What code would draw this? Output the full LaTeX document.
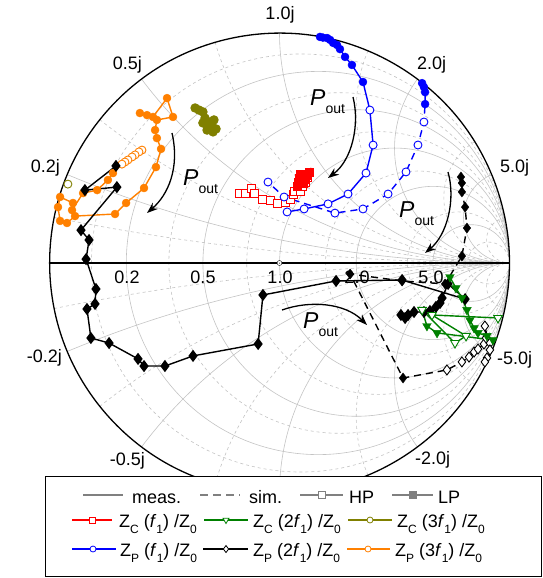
\documentclass[border=0pt]{standalone}
\usepackage{fontspec}
\setmainfont{Liberation Sans}
\usepackage{pgfplots}
\pgfplotsset{compat=1.18}
\usepgfplotslibrary{smithchart}
\usetikzlibrary{arrows.meta,plotmarks}
\definecolor{cblue}{RGB}{0,0,255}
\definecolor{cred}{RGB}{255,0,0}
\definecolor{cgreen}{RGB}{0,128,0}
\definecolor{colive}{RGB}{128,128,0}
\definecolor{corange}{RGB}{255,128,0}
\definecolor{cgrid}{RGB}{195,195,195}
\definecolor{clgray}{RGB}{128,128,128}
\newcommand{\sub}[1]{\raisebox{-6pt}{\fontsize{12}{12}\selectfont #1}}
\newcommand{\Zl}[2]{Z\sub{#1} (#2\textit{f}\sub{1}) /Z\sub{0}}
\tikzset{
  ltxt/.style={anchor=base west, inner sep=0pt, font=\fontsize{18}{20}\selectfont},
  tl/.style={inner sep=0pt, font=\fontsize{18}{20}\selectfont},
  pout/.style={anchor=base west, inner sep=0pt},
  parr/.style={black, line width=1.3pt, -{Stealth[length=11pt,width=8pt]}},
}
\pgfplotsset{
  dline/.style={line width=1.4pt, no markers},
  lpc/.style={only marks, mark=*, mark size=4pt},
  hpc/.style={only marks, mark=*, mark size=4pt, mark options={fill=white, line width=0.9pt}},
}
\newcommand{\Pout}{{\fontsize{23}{23}\selectfont\itshape P}\raisebox{-8pt}{\fontsize{14}{14}\selectfont out}}
\begin{document}
\begin{tikzpicture}
\useasboundingbox (0pt,0pt) rectangle (543pt,-578pt);
\begin{smithchart}[
  at={(279.5pt,-263pt)}, anchor=center,
  scale only axis, width=460pt, height=460pt,
  every axis plot/.append style={is smithchart cs},
  xtick={0.2,0.5,1,2,5},
  ytick={-5,-2,-1,-0.5,-0.2,0.2,0.5,1,2,5},
  minor xtick={0.1,0.35,0.75,1.5,3.5,10},
  minor ytick={-10,-3.5,-1.5,-0.75,-0.35,-0.1,0.1,0.35,0.75,1.5,3.5,10},
  grid=both,
  major grid style={cgrid, line width=0.6pt},
  minor grid style={cgrid, line width=0.6pt, dash pattern=on 3pt off 3pt},
  axis line style={black, line width=1.3pt},
  major tick length=0pt, minor tick length=0pt,
  xticklabel={\relax}, yticklabel={\relax},
  xgrid each nth passes y={},
  ygrid each nth passes x={},
]
% ---------- Z_P(3f1) orange, measured
\addplot[corange, dline] coordinates {
(-0.598,0.491)(-0.611,0.483)(-0.628,0.470)(-0.641,0.461)(-0.659,0.448)(-0.672,0.439)(-0.685,0.430)
(-0.724,0.391)(-0.746,0.361)(-0.793,0.317)(-0.854,0.304)(-0.902,0.230)(-0.898,0.261)(-0.954,0.287)(-0.963,0.243)(-0.954,0.183)(-0.924,0.174)(-0.889,0.204)(-0.715,0.213)(-0.667,0.261)(-0.589,0.326)(-0.537,0.417)(-0.515,0.496)(-0.533,0.543)(-0.541,0.578)(-0.533,0.622)(-0.463,0.635)(-0.489,0.717)(-0.550,0.635)(-0.576,0.643)(-0.607,0.652)};
\addplot[corange, lpc] coordinates {
(-0.724,0.391)(-0.746,0.361)(-0.793,0.317)(-0.854,0.304)(-0.902,0.230)(-0.898,0.261)(-0.954,0.287)(-0.963,0.243)(-0.954,0.183)(-0.924,0.174)(-0.889,0.204)(-0.715,0.213)(-0.667,0.261)(-0.589,0.326)(-0.537,0.417)(-0.515,0.496)(-0.533,0.543)(-0.541,0.578)(-0.533,0.622)(-0.463,0.635)(-0.489,0.717)(-0.550,0.635)(-0.576,0.643)(-0.607,0.652)};
\addplot[corange, hpc] coordinates {
(-0.598,0.491)(-0.611,0.483)(-0.628,0.470)(-0.641,0.461)(-0.659,0.448)(-0.672,0.439)(-0.685,0.430)};
% ---------- Z_C(3f1) olive
\addplot[colive, line width=1.4pt, mark=*, mark size=4pt] coordinates {
(-0.367,0.674)(-0.350,0.665)(-0.333,0.657)(-0.324,0.630)(-0.333,0.609)(-0.315,0.600)(-0.293,0.591)(-0.276,0.583)(-0.289,0.570)(-0.315,0.578)(-0.302,0.613)(-0.285,0.622)};
\addplot[colive, hpc] coordinates {(-0.920,0.343)};
% ---------- Z_C(f1) red
\addplot[cred, dline] coordinates {
(-0.176,0.304)(-0.146,0.304)(-0.120,0.326)(-0.111,0.304)(-0.072,0.278)(-0.041,0.270)(-0.007,0.261)(0.024,0.265)(0.046,0.278)(0.059,0.296)(0.067,0.313)(0.089,0.309)(0.098,0.335)(0.111,0.352)(0.120,0.370)
(0.128,0.396)(0.120,0.383)(0.111,0.365)(0.102,0.348)(0.089,0.387)(0.085,0.370)(0.080,0.352)(0.076,0.335)};
\addplot[cred, only marks, mark=square*, mark size=4pt, mark options={fill=white, line width=0.9pt}] coordinates {
(-0.176,0.304)(-0.146,0.304)(-0.120,0.326)(-0.111,0.304)(-0.072,0.278)(-0.041,0.270)(-0.007,0.261)(0.024,0.265)(0.046,0.278)(0.059,0.296)(0.067,0.313)(0.089,0.309)(0.098,0.335)(0.111,0.352)(0.120,0.370)};
\addplot[cred, only marks, mark=square*, mark size=4pt] coordinates {
(0.128,0.396)(0.120,0.383)(0.111,0.365)(0.102,0.348)(0.089,0.387)(0.085,0.370)(0.080,0.352)(0.076,0.335)};
% ---------- Z_P(f1) blue, measured
\addplot[cblue, dline] coordinates {
(0.176,0.983)(0.189,0.980)(0.207,0.978)(0.220,0.970)(0.233,0.957)(0.250,0.948)(0.263,0.930)(0.285,0.896)(0.315,0.861)(0.363,0.787)
(0.393,0.665)(0.407,0.513)(0.376,0.391)(0.298,0.300)(0.211,0.257)(0.107,0.235)(0.033,0.222)};
\addplot[cblue, lpc] coordinates {
(0.176,0.983)(0.189,0.980)(0.207,0.978)(0.220,0.970)(0.233,0.957)(0.250,0.948)(0.263,0.930)(0.285,0.896)(0.315,0.861)(0.363,0.787)};
\addplot[cblue, hpc] coordinates {
(0.393,0.665)(0.407,0.513)(0.376,0.391)(0.298,0.300)(0.211,0.257)(0.107,0.235)(0.033,0.222)};
% ---------- Z_P(f1) blue, simulated
\addplot[cblue, dline, dash pattern=on 7pt off 5pt] coordinates {
(0.620,0.782)(0.628,0.765)(0.633,0.743)(0.633,0.691)
(0.628,0.613)(0.602,0.513)(0.550,0.396)(0.472,0.300)(0.363,0.235)(0.241,0.217)(0.020,0.287)(-0.050,0.352)};
\addplot[cblue, lpc] coordinates {
(0.620,0.782)(0.628,0.765)(0.633,0.743)(0.633,0.691)};
\addplot[cblue, hpc] coordinates {
(0.628,0.613)(0.602,0.513)(0.550,0.396)(0.472,0.300)(0.363,0.235)(0.241,0.217)(0.020,0.287)(-0.050,0.352)};
% ---------- Z_P(2f1) black, measured
\addplot[black, line width=1.4pt, mark=diamond*, mark size=5pt] coordinates {
(-0.711,0.422)(-0.846,0.317)(-0.707,0.330)(-0.863,0.143)(-0.828,0.100)(-0.841,0.017)(-0.798,-0.113)(-0.802,-0.178)(-0.837,-0.200)(-0.820,-0.326)(-0.741,-0.348)(-0.615,-0.417)(-0.589,-0.448)(-0.498,-0.448)(-0.376,-0.404)(-0.093,-0.352)(-0.072,-0.139)(0.246,-0.078)(0.533,-0.074)(0.807,-0.157)
(0.733,-0.091)(0.707,-0.152)(0.698,-0.174)(0.680,-0.191)(0.654,-0.209)(0.628,-0.213)(0.585,-0.213)(0.559,-0.226)(0.528,-0.226)(0.546,-0.239)};
% ---------- Z_P(2f1) black, simulated
\addplot[black, dline, dash pattern=on 7pt off 5pt] coordinates {
(0.789,0.374)(0.793,0.348)(0.793,0.309)(0.807,0.243)(0.815,0.152)(0.793,0.030)(0.720,-0.091)(0.533,-0.078)(0.307,-0.048)(0.537,-0.500)
(0.728,-0.465)(0.793,-0.430)(0.824,-0.409)(0.846,-0.387)(0.863,-0.374)(0.889,-0.352)(0.915,-0.348)(0.898,-0.326)(0.893,-0.274)(0.915,-0.378)(0.902,-0.413)(0.893,-0.430)};
\addplot[black, only marks, mark=diamond*, mark size=5pt] coordinates {
(0.789,0.374)(0.793,0.348)(0.793,0.309)(0.807,0.243)(0.815,0.152)(0.793,0.030)(0.720,-0.091)(0.533,-0.078)(0.307,-0.048)(0.537,-0.500)};
\addplot[black, only marks, mark=diamond*, mark size=5pt, mark options={fill=white, line width=0.9pt}] coordinates {
(0.728,-0.465)(0.793,-0.430)(0.824,-0.409)(0.846,-0.387)(0.863,-0.374)(0.889,-0.352)(0.915,-0.348)(0.898,-0.326)(0.893,-0.274)(0.915,-0.378)(0.902,-0.413)(0.893,-0.430)};
% ---------- Z_C(2f1) green
\addplot[cgreen, dline] coordinates {
(0.741,-0.061)(0.767,-0.109)(0.793,-0.152)(0.815,-0.204)(0.828,-0.248)(0.846,-0.283)(0.863,-0.304)(0.902,-0.317)(0.928,-0.335)(0.685,-0.304)(0.641,-0.274)
(0.620,-0.204)(0.763,-0.348)(0.811,-0.317)(0.663,-0.226)(0.950,-0.239)};
\addplot[cgreen, only marks, mark=triangle*, mark size=5pt, mark options={rotate=180}] coordinates {
(0.741,-0.061)(0.767,-0.109)(0.793,-0.152)(0.815,-0.204)(0.828,-0.248)(0.846,-0.283)(0.863,-0.304)(0.902,-0.317)(0.928,-0.335)(0.685,-0.304)(0.641,-0.274)};
\addplot[cgreen, only marks, mark=triangle*, mark size=5pt, mark options={rotate=180, fill=white, line width=0.9pt}] coordinates {
(0.620,-0.204)(0.763,-0.348)(0.811,-0.317)(0.663,-0.226)(0.950,-0.239)};
\end{smithchart}
% ---------- tick labels
\node[tl, anchor=base] at (127pt,-283pt) {0.2};
\node[tl, anchor=base] at (203pt,-283pt) {0.5};
\node[tl, anchor=base] at (280pt,-283pt) {1.0};
\node[tl, anchor=base] at (357pt,-283pt) {2.0};
\node[tl, anchor=base] at (431pt,-283pt) {5.0};
\node[tl, anchor=base] at (280pt,-20pt) {1.0j};
\node[tl, anchor=base east] at (142pt,-70pt) {0.5j};
\node[tl, anchor=base east] at (60pt,-172pt) {0.2j};
\node[tl, anchor=base west] at (417pt,-70pt) {2.0j};
\node[tl, anchor=base west] at (500pt,-172pt) {5.0j};
\node[tl, anchor=base east] at (62pt,-362pt) {-0.2j};
\node[tl, anchor=base east] at (145pt,-465pt) {-0.5j};
\node[tl, anchor=base west] at (415pt,-464pt) {-2.0j};
\node[tl, anchor=base west] at (497pt,-364pt) {-5.0j};
% ---------- P_out annotations
\draw[parr] (172pt,-133pt) .. controls (180pt,-168pt) and (168pt,-195pt) .. (147pt,-213pt);
\draw[parr] (353pt,-97pt) .. controls (360pt,-125pt) and (352pt,-160pt) .. (328pt,-178pt);
\draw[parr] (448pt,-172pt) .. controls (456pt,-200pt) and (447pt,-235pt) .. (425pt,-253pt);
\draw[parr] (282pt,-310pt) .. controls (310pt,-300pt) and (345pt,-303pt) .. (367pt,-325pt);
\node[pout] at (183pt,-185pt) {\Pout};
\node[pout] at (310pt,-105pt) {\Pout};
\node[pout] at (399pt,-217pt) {\Pout};
\node[pout] at (303pt,-328pt) {\Pout};
% ---------- legend
\draw[black, line width=0.8pt, fill=white] (45pt,-476pt) rectangle (541pt,-576pt);
\draw[clgray, line width=1.2pt] (83pt,-495pt) -- (123pt,-495pt);
\node[ltxt] at (132pt,-503pt) {meas.};
\draw[clgray, line width=1.2pt, dash pattern=on 8pt off 5pt] (200pt,-495pt) -- (240pt,-495pt);
\node[ltxt] at (249pt,-503pt) {sim.};
\draw[clgray, line width=1.2pt] (300pt,-495pt) -- (343pt,-495pt);
\draw[clgray, line width=0.8pt] plot[only marks, mark=square*, mark size=3.2pt, mark options={fill=white}] coordinates {(322pt,-495pt)};
\node[ltxt] at (349pt,-503pt) {HP};
\draw[clgray, line width=1.2pt] (392pt,-495pt) -- (433pt,-495pt);
\draw[clgray, line width=0.8pt] plot[only marks, mark=square*, mark size=3.2pt, mark options={fill=clgray}] coordinates {(413pt,-495pt)};
\node[ltxt] at (438pt,-503pt) {LP};
% row 2
\draw[cred, line width=1.2pt] (72pt,-520pt) -- (112pt,-520pt);
\draw[cred, line width=0.8pt] plot[only marks, mark=square*, mark size=3pt, mark options={fill=white}] coordinates {(92pt,-520pt)};
\node[ltxt] at (119pt,-527pt) {\Zl{C}{}};
\draw[cgreen, line width=1.2pt] (204pt,-520pt) -- (248pt,-520pt);
\draw[cgreen, line width=0.8pt] plot[only marks, mark=triangle*, mark size=3.5pt, mark options={fill=white, rotate=180}] coordinates {(226pt,-520pt)};
\node[ltxt] at (253pt,-527pt) {\Zl{C}{2}};
\draw[colive, line width=1.2pt] (348pt,-520pt) -- (392pt,-520pt);
\draw[colive, line width=0.8pt] plot[only marks, mark=*, mark size=3pt, mark options={fill=white}] coordinates {(370pt,-520pt)};
\node[ltxt] at (397pt,-527pt) {\Zl{C}{3}};
% row 3
\draw[cblue, line width=1.2pt] (72pt,-549pt) -- (116pt,-549pt);
\draw[cblue, line width=0.8pt] plot[only marks, mark=*, mark size=3pt, mark options={fill=white}] coordinates {(93pt,-549pt)};
\node[ltxt] at (120pt,-556pt) {\Zl{P}{}};
\draw[black, line width=1.2pt] (203pt,-549pt) -- (248pt,-549pt);
\draw[black, line width=0.8pt] plot[only marks, mark=diamond*, mark size=3.5pt, mark options={fill=white}] coordinates {(226pt,-549pt)};
\node[ltxt] at (253pt,-556pt) {\Zl{P}{2}};
\draw[corange, line width=1.2pt] (347pt,-549pt) -- (390pt,-549pt);
\draw[corange, line width=0.8pt] plot[only marks, mark=*, mark size=3pt, mark options={fill=white}] coordinates {(368pt,-549pt)};
\node[ltxt] at (395pt,-556pt) {\Zl{P}{3}};
\end{tikzpicture}
\end{document}
